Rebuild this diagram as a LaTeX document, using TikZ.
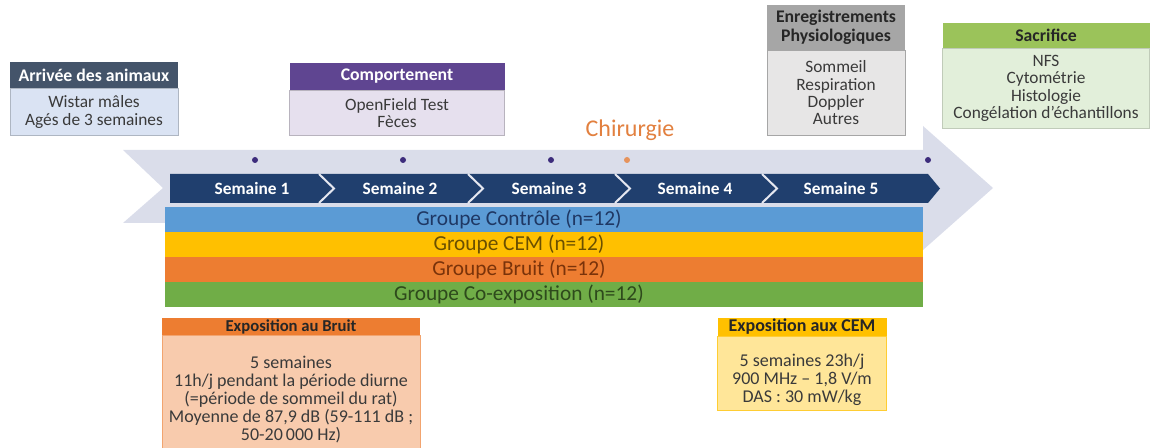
\documentclass[tikz,border=0pt]{standalone}
\usepackage{fontspec}
\setmainfont{Carlito}
\usetikzlibrary{positioning}
\definecolor{BarNavy}{HTML}{203F6E}
\definecolor{ArrowGrey}{HTML}{DADDEA}
\definecolor{DotPurple}{HTML}{3D2C7C}
\definecolor{CutOrange}{HTML}{E2803F}
\definecolor{CtrlBlue}{HTML}{5B9BD5}
\definecolor{CtrlText}{HTML}{1F3864}
\definecolor{CemYellow}{HTML}{FFC000}
\definecolor{CemText}{HTML}{6B5000}
\definecolor{CemLight}{HTML}{FFE699}
\definecolor{NoiseOrange}{HTML}{ED7D31}
\definecolor{NoiseText}{HTML}{7A330A}
\definecolor{NoiseLight}{HTML}{F8CBAD}
\definecolor{CoGreen}{HTML}{70AD47}
\definecolor{CoText}{HTML}{2E4A1C}
\definecolor{ArrivalHead}{HTML}{44546A}
\definecolor{ArrivalLight}{HTML}{DAE3F3}
\definecolor{BehavHead}{HTML}{5F4591}
\definecolor{BehavLight}{HTML}{E6E0EE}
\definecolor{RecordHead}{HTML}{A6A6A6}
\definecolor{RecordLight}{HTML}{E7E6E6}
\definecolor{SacrHead}{HTML}{9BC35A}
\definecolor{SacrLight}{HTML}{E2EFDA}
\definecolor{BodyText}{HTML}{3A3A3A}
\definecolor{HeadText}{HTML}{262626}
\newcommand{\Px}{0.75pt}
\def\WeekSequence{1/252, 2/400, 3/549, 4/695, 5/841}
\def\GroupSequence{1/Contrôle/CtrlBlue/CtrlText, 2/CEM/CemYellow/CemText, 3/Bruit/NoiseOrange/NoiseText, 4/Co-exposition/CoGreen/CoText}
\tikzset{
	Head/.style={
		inner sep=0pt,
		minimum height=#1*\Px,
		align=center,
		font=\bfseries\fontsize{13.3}{14}\selectfont,
	},
	Body/.style={
		inner sep=0pt,
		minimum height=#1*\Px,
		align=center,
		text=BodyText,
		font=\fontsize{13}{13}\selectfont,
	},
	BigBody/.style={align=center, text=BodyText, font=\fontsize{13.5}{13.5}\selectfont},
	Week/.style={text=white, font=\bfseries\fontsize{13}{13}\selectfont},
	GroupBar/.style={inner sep=0pt, minimum width=758*\Px, minimum height=25*\Px},
	GroupLabel/.style={font=\fontsize{16}{16}\selectfont},
	Dot/.style={circle, inner sep=0pt, minimum size=6*\Px, fill=DotPurple},
	SepLine/.style={draw=ArrowGrey!70!white, line width=2*\Px},
}

\begin{document}
\begin{tikzpicture}[x=\Px, y=-\Px]
	\useasboundingbox (0,0) rectangle (1156,448);
	% timeline arrow
	\fill[ArrowGrey] (123,150) -- (923,150) -- (923,126) -- (993,188) -- (923,250) -- (923,223) -- (123,223) -- (163,188) -- cycle;
	\fill[BarNavy] (170,174) -- (928,174) -- (940,188.5) -- (928,203) -- (170,203) -- cycle;
	\foreach \x in {319,468,615,762}{%
		\draw[SepLine] (\x,174) -- (\x+15,188.5) -- (\x,203);
	}
	\foreach \week/\x in \WeekSequence{%
		\node [Week] (week\week) at (\x,188.5) {Semaine \week};
	}
	\foreach \x in {255,403,551,928}{%
		\node [Dot] (dot\x) at (\x,160) {};
	}
	\node [Dot, fill=CutOrange!85!white] (dotSurgery) at (627,160) {};
	\node [text=CutOrange, font=\fontsize{18}{18}\selectfont] (surgery) at (630,130) {Chirurgie};
	% groups
	\foreach \row/\name/\fillColor/\textColor in \GroupSequence{%
		\node [GroupBar, fill=\fillColor] (bar\row) at (544,{194.5+25*\row}) {};
		\node [GroupLabel, text=\textColor] (group\row) at (519,{194.5+25*\row}) {Groupe \name{} (n=12)};
	}
	% top boxes
	\node [Head=26, minimum width=168*\Px, fill=ArrivalHead, text=white] (arrivalHead) at (94,75) {Arrivée des animaux};
	\node [Body=47, minimum width=168*\Px, fill=ArrivalLight, draw=ArrivalLight!80!black, below=0pt of arrivalHead] (arrivalBody) {Wistar mâles\\Agés de 3 semaines};
	\node [Head=27, minimum width=215*\Px, fill=BehavHead, text=white] (behavHead) at (397,76.5) {Comportement};
	\node [Body=45, minimum width=215*\Px, fill=BehavLight, draw=BehavLight!80!black, below=0pt of behavHead] (behavBody) {OpenField Test\\Fèces};
	\node [Head=45, minimum width=138*\Px, fill=RecordHead, text=HeadText] (recordHead) at (836,27.5) {Enregistrements\\Physiologiques};
	\node [Body=85, minimum width=138*\Px, fill=RecordLight, draw=RecordHead, below=0pt of recordHead] (recordBody) {Sommeil\\Respiration\\Doppler\\Autres};
	\node [Head=25, minimum width=207*\Px, fill=SacrHead, text=HeadText] (sacrHead) at (1046,35.5) {Sacrifice};
	\node [Body=80, minimum width=207*\Px, fill=SacrLight, draw=SacrLight!85!black, below=0pt of sacrHead] (sacrBody) {NFS\\Cytométrie\\Histologie\\Congélation d'échantillons};
	% bottom boxes
	\node [Head=17, minimum width=258*\Px, fill=NoiseOrange, text=HeadText, font=\bfseries\fontsize{12.5}{13}\selectfont] (noiseHead) at (291,326.5) {Exposition au Bruit};
	\node [Body=125, minimum width=258*\Px, fill=NoiseLight, draw=NoiseOrange!70, below=0pt of noiseHead] (noiseBody) {};
	\node [BigBody] (noiseText) at ([yshift=-2*\Px]noiseBody.center) {5 semaines\\11h/j pendant la période diurne\\(=période de sommeil du rat)\\Moyenne de 87,9 dB (59-111 dB ;\\50-20\,000 Hz)};
	\node [Head=18, minimum width=169*\Px, fill=CemYellow, text=HeadText, font=\bfseries\fontsize{13.5}{14}\selectfont] (cemHead) at (802,327) {Exposition aux CEM};
	\node [Body=74, minimum width=169*\Px, fill=CemLight, draw=CemYellow!80, below=0pt of cemHead] (cemBody) {};
	\node [BigBody] (cemText) at ([yshift=-6*\Px]cemBody.center) {5 semaines 23h/j\\900 MHz -- 1,8 V/m\\DAS : 30 mW/kg};
\end{tikzpicture}
\end{document}
